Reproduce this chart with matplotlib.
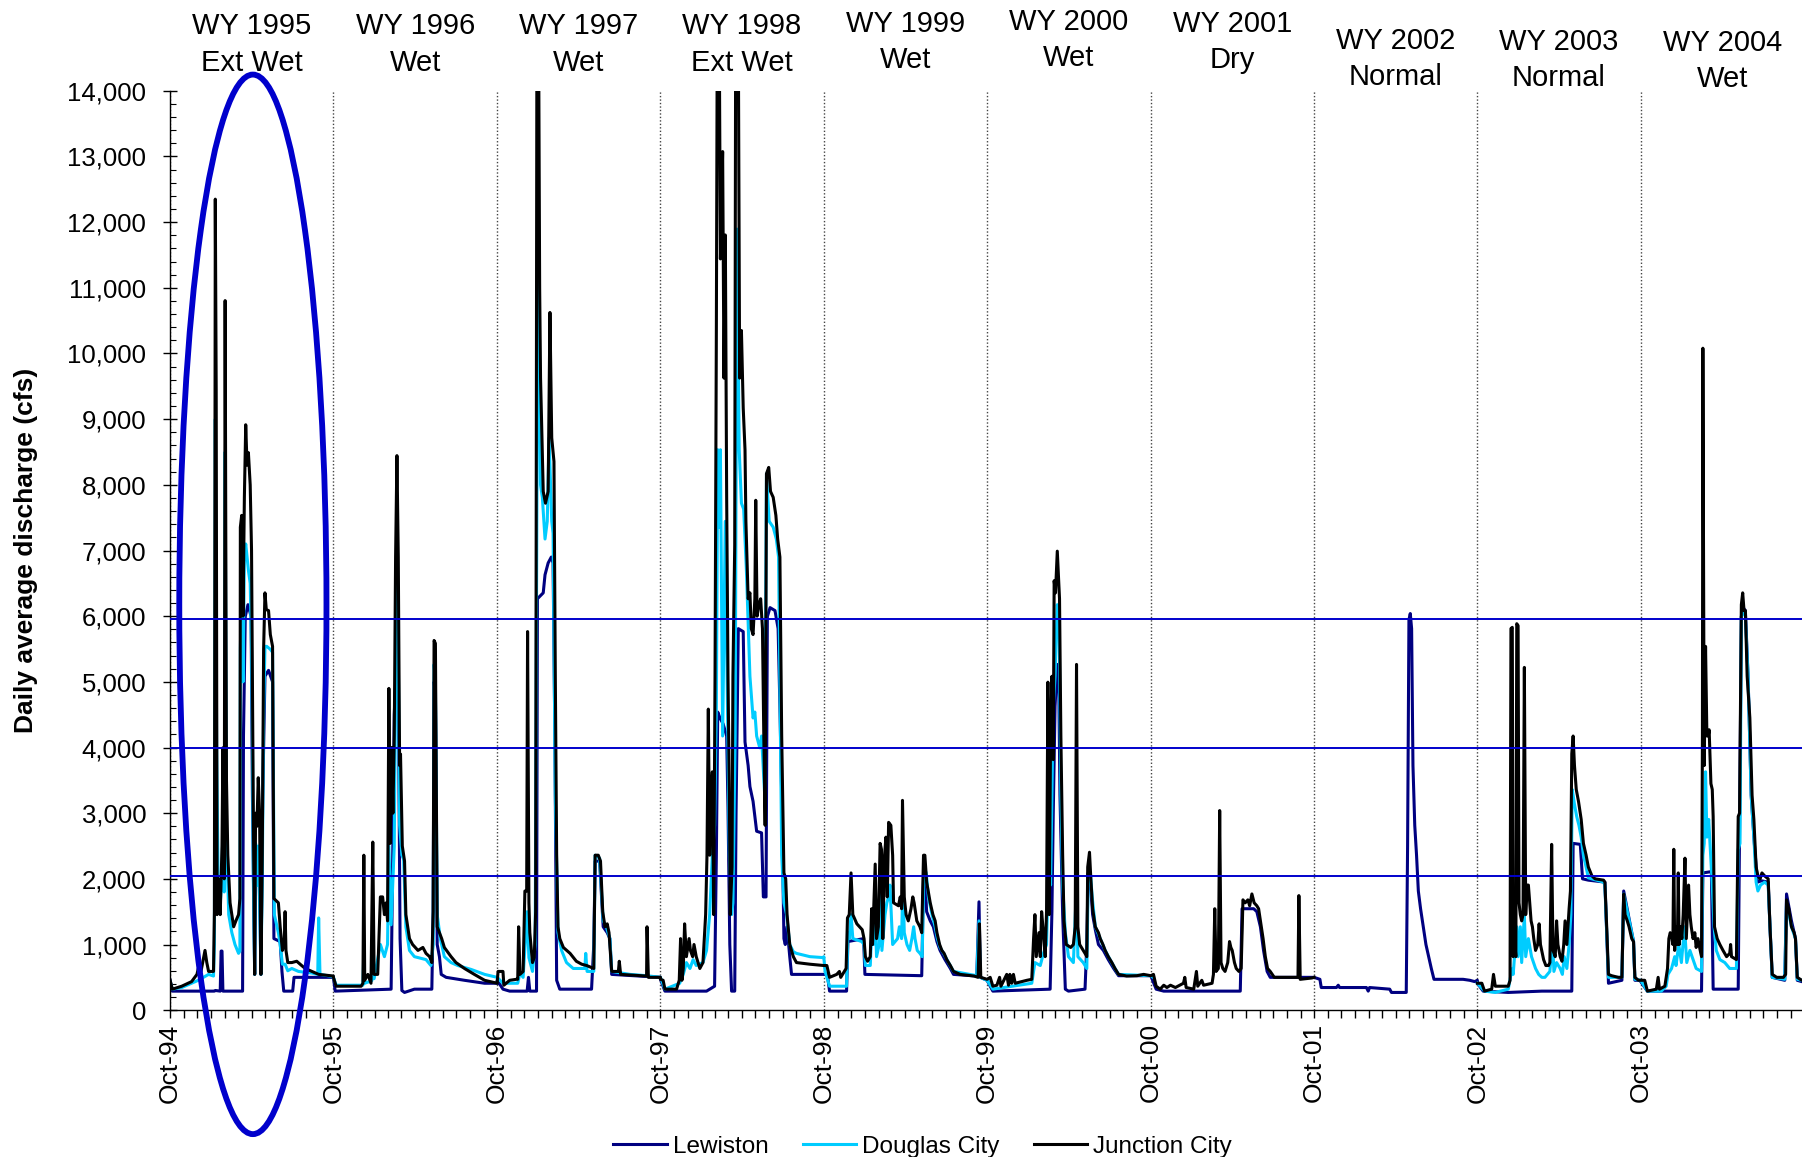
import numpy as np
import matplotlib
matplotlib.use("Agg")
import matplotlib.pyplot as plt
import matplotlib.dates as mdates
import matplotlib.transforms as mtransforms
from matplotlib.patches import Ellipse
from matplotlib.ticker import FuncFormatter, MultipleLocator

plt.rcParams['font.family'] = ['Liberation Sans', 'DejaVu Sans']

# water year labels
wy_years = [1995, 1996, 1997, 1998, 1999, 2000, 2001, 2002, 2003, 2004]
wy_types = ["Ext Wet", "Wet", "Wet", "Ext Wet", "Wet", "Wet", "Dry", "Normal", "Normal", "Wet"]

# horizontal reference lines (cfs)
ref_levels = [5950, 4000, 2040]

# daily discharge: {water year: [(day since Oct 1, cfs), ...]}
lewiston = {
    1995: [(0, 455), (5, 290), (99, 290), (101, 300), (112, 290), (114, 900), (116, 900), (118, 290),
           (162, 290), (164, 4175), (168, 5995), (174, 6175), (181, 5995), (184, 3270), (189, 545),
           (192, 2360), (199, 2360), (203, 545), (207, 3270), (212, 5085), (220, 5175), (229, 5000),
           (232, 1090), (246, 1045), (250, 590), (254, 290), (274, 290), (277, 500), (365, 500)],
    1996: [(0, 500), (4, 290), (129, 320), (132, 2000), (136, 4500), (142, 5500), (146, 4000),
           (149, 1090), (153, 300), (159, 270), (181, 320), (220, 320), (223, 1500), (225, 5000),
           (228, 4800), (232, 1000), (237, 815), (241, 545), (252, 500), (293, 455), (338, 410), (366, 410)],
    1997: [(0, 455), (13, 320), (28, 290), (67, 290), (70, 500), (73, 290), (88, 290), (90, 6265),
           (103, 6355), (107, 6630), (114, 6810), (121, 6900), (125, 6810), (129, 4175), (133, 455),
           (140, 320), (211, 320), (216, 1000), (219, 2270), (229, 2270), (237, 1270), (246, 1180),
           (252, 1090), (256, 545), (365, 500)],
    1998: [(0, 470), (10, 290), (103, 290), (121, 365), (125, 2360), (128, 4540), (133, 4450),
           (140, 4360), (148, 4175), (151, 3090), (155, 1000), (159, 290), (166, 290), (169, 3000),
           (174, 5810), (185, 5765), (189, 4085), (196, 3725), (200, 3405), (207, 3180), (215, 2725),
           (226, 2700), (230, 1725), (236, 1725), (239, 5995), (245, 6130), (256, 6085), (263, 5810),
           (267, 4630), (271, 3270), (276, 1090), (279, 1000), (283, 1270), (289, 815), (293, 545),
           (365, 545)],
    1999: [(0, 545), (8, 545), (13, 290), (51, 290), (54, 1045), (89, 1090), (92, 545), (219, 525),
           (223, 2000), (227, 1905), (230, 1500), (238, 1360), (245, 1270), (253, 1045), (260, 910),
           (271, 770), (283, 635), (290, 545), (342, 520), (347, 1650), (350, 500), (365, 455)],
    2000: [(0, 455), (13, 290), (141, 320), (145, 1500), (148, 3000), (152, 4630), (157, 5265),
           (160, 5175), (163, 3270), (169, 1455), (175, 320), (182, 290), (219, 320), (223, 1000),
           (226, 2090), (231, 1950), (236, 1455), (242, 1225), (249, 1000), (260, 910), (271, 770),
           (283, 635), (294, 525), (366, 525)],
    2001: [(0, 525), (12, 320), (29, 290), (200, 290), (204, 1545), (230, 1545), (237, 1500),
           (245, 1270), (252, 910), (260, 590), (267, 500), (365, 500)],
    2002: [(0, 500), (13, 470), (16, 345), (50, 345), (54, 380), (57, 345), (117, 345), (121, 290),
           (124, 345), (169, 320), (173, 270), (206, 270), (209, 2500), (212, 5945), (215, 6040),
           (218, 5810), (221, 3725), (225, 2815), (229, 2360), (233, 1815), (238, 1545), (244, 1270),
           (250, 1000), (256, 815), (262, 635), (268, 470), (303, 470), (333, 470), (348, 455),
           (359, 435), (365, 455)],
    2003: [(0, 410), (13, 290), (69, 270), (144, 290), (211, 290), (214, 2540), (230, 2525),
           (235, 2000), (248, 1980), (285, 1950), (293, 410), (323, 455), (327, 1815), (349, 1045),
           (352, 455), (365, 455)],
    2004: [(0, 435), (15, 290), (76, 290), (136, 290), (139, 2090), (158, 2110), (162, 320),
           (218, 320), (221, 2815), (225, 5995), (229, 6130), (234, 6085), (240, 5085), (247, 3270),
           (254, 2540), (261, 1950), (270, 1970), (285, 1950), (289, 1270), (294, 500), (322, 455),
           (326, 1770), (337, 1360), (346, 1090), (350, 455), (360, 435), (366, 435)],
}

douglas_city = {
    1995: [(0, 435), (5, 320), (26, 345), (63, 455), (86, 545), (97, 520), (99, 1000), (101, 9000),
           (104, 4000), (108, 1500), (112, 1635), (116, 2000), (118, 3000), (121, 1800), (123, 8500),
           (126, 2700), (131, 1455), (138, 1180), (145, 1000), (153, 865), (156, 900), (157, 5500),
           (160, 6500), (163, 5000), (166, 6900), (169, 7100), (172, 6900), (175, 6700), (179, 6500),
           (182, 5500), (184, 4175), (186, 2000), (189, 545), (191, 2540), (194, 1900), (197, 2500),
           (200, 1700), (203, 545), (206, 2000), (209, 4500), (212, 5540), (216, 5540), (224, 5495),
           (229, 5450), (233, 1455), (242, 1180), (246, 1000), (251, 700), (257, 700), (263, 600),
           (272, 635), (287, 590), (317, 565), (330, 545), (332, 1405), (335, 545), (365, 510)],
    1996: [(0, 500), (6, 380), (66, 380), (68, 900), (70, 410), (86, 450), (88, 1000), (91, 480),
           (105, 1000), (114, 815), (121, 1000), (124, 2500), (129, 1300), (136, 2500), (139, 5000),
           (142, 7200), (145, 5500), (148, 2815), (153, 2360), (157, 2300), (162, 1270), (170, 910),
           (181, 815), (196, 790), (207, 770), (218, 680), (223, 1000), (225, 5265), (228, 5000),
           (232, 1455), (239, 1090), (248, 815), (263, 725), (278, 680), (308, 620), (338, 545),
           (366, 500)],
    1997: [(0, 500), (13, 410), (46, 410), (51, 565), (58, 500), (62, 955), (67, 1500), (71, 800),
           (79, 590), (85, 1000), (89, 8000), (92, 12500), (97, 8000), (101, 7810), (107, 7175),
           (112, 7445), (116, 8715), (122, 7445), (125, 7260), (130, 3270), (136, 1180), (144, 910),
           (155, 725), (170, 635), (196, 635), (198, 865), (201, 590), (216, 590), (219, 2360),
           (229, 2315), (237, 1360), (244, 1270), (252, 1090), (256, 590), (297, 545), (334, 525),
           (365, 500)],
    1998: [(0, 500), (10, 320), (43, 410), (51, 545), (58, 725), (66, 635), (73, 770), (80, 680),
           (95, 725), (103, 910), (110, 1455), (116, 2360), (121, 2815), (125, 4630), (128, 8535),
           (131, 7355), (134, 8535), (139, 4175), (145, 7445), (149, 5085), (154, 2360), (159, 1455),
           (162, 1635), (167, 4175), (171, 11895), (176, 8535), (181, 7720), (186, 7630), (192, 6720),
           (200, 5085), (207, 4450), (211, 4540), (215, 4175), (222, 3995), (226, 4175), (233, 3270),
           (237, 8170), (243, 7445), (252, 7355), (259, 7175), (264, 6900), (271, 2360), (276, 1635),
           (282, 1455), (289, 1000), (297, 890), (304, 865), (334, 815), (365, 800)],
    1999: [(0, 815), (3, 590), (13, 365), (51, 365), (54, 1180), (57, 1090), (61, 1455), (65, 1090),
           (85, 1045), (90, 1000), (93, 680), (104, 680), (107, 1180), (111, 1000), (115, 1455),
           (118, 815), (124, 1000), (127, 2000), (130, 910), (137, 1455), (141, 1635), (145, 1725),
           (148, 1905), (151, 1455), (154, 1000), (165, 1090), (169, 1270), (174, 1090), (177, 2000),
           (180, 1180), (186, 1000), (192, 910), (197, 1090), (201, 1270), (204, 1090), (209, 910),
           (215, 865), (220, 815), (224, 2180), (229, 2090), (234, 1725), (242, 1455), (249, 1270),
           (254, 1090), (260, 955), (268, 865), (279, 725), (290, 590), (342, 525), (347, 1360),
           (350, 500), (365, 455)],
    2000: [(0, 455), (13, 320), (100, 410), (107, 725), (119, 680), (126, 865), (133, 1000),
           (138, 2360), (142, 1905), (148, 4630), (152, 5085), (157, 6175), (161, 5995), (165, 3270),
           (169, 1905), (175, 1180), (182, 815), (193, 725), (200, 1905), (203, 815), (215, 725),
           (223, 635), (226, 1950), (231, 2090), (235, 1725), (242, 1270), (253, 1090), (264, 910),
           (275, 770), (286, 635), (294, 545), (366, 525)],
    2001: [(0, 525), (5, 500)],
    2003: [(0, 410), (16, 290), (40, 270), (69, 320), (75, 545), (78, 635), (80, 545), (88, 1270),
           (91, 815), (96, 1270), (99, 725), (105, 1455), (108, 815), (114, 1090), (121, 815),
           (130, 635), (137, 545), (144, 500), (151, 500), (162, 590), (168, 1090), (171, 590),
           (177, 725), (185, 635), (190, 545), (194, 815), (200, 635), (205, 1000), (209, 1455),
           (212, 3360), (217, 3135), (222, 2950), (227, 2815), (232, 2635), (237, 2360), (243, 2180),
           (248, 2015), (256, 2000), (282, 1950), (285, 1905), (289, 1180), (293, 500), (323, 500),
           (327, 1770), (349, 1045), (352, 470), (365, 455)],
    2004: [(0, 455), (15, 290), (46, 290), (57, 365), (61, 545), (69, 635), (76, 815), (79, 680),
           (85, 1000), (91, 725), (98, 1270), (103, 725), (110, 910), (117, 770), (124, 635),
           (136, 590), (139, 2360), (142, 2540), (145, 3630), (148, 2635), (152, 2905), (155, 2540),
           (160, 1905), (164, 1270), (169, 910), (177, 770), (188, 725), (199, 635), (214, 635),
           (218, 2450), (222, 2540), (225, 5995), (229, 6085), (234, 5995), (240, 5085), (247, 3270),
           (253, 2635), (258, 1950), (262, 1815), (268, 1905), (277, 1950), (285, 1905), (289, 1270),
           (294, 500), (322, 470), (326, 1650), (337, 1270), (346, 1090), (350, 470), (360, 455),
           (366, 455)],
}

junction_city = {
    1995: [(0, 455), (5, 320), (26, 365), (48, 435), (60, 545), (63, 635), (69, 590), (78, 910),
           (82, 725), (86, 590), (97, 590), (99, 1500), (101, 12350), (103, 9445), (105, 1455),
           (108, 2000), (112, 1455), (116, 2500), (118, 3995), (121, 2000), (123, 10805), (126, 3500),
           (129, 2360), (134, 1635), (138, 1455), (142, 1270), (147, 1360), (153, 1455), (156, 1700),
           (157, 7355), (160, 7535), (163, 6000), (166, 7810), (169, 8915), (172, 8300), (175, 8490),
           (179, 8000), (182, 7000), (184, 5085), (186, 3000), (189, 545), (191, 3000), (194, 2800),
           (197, 3540), (200, 3000), (203, 545), (206, 2360), (209, 5500), (212, 6355), (215, 6100),
           (220, 6085), (224, 5720), (229, 5540), (232, 1700), (242, 1635), (246, 1270), (251, 910),
           (255, 1000), (257, 1500), (259, 910), (263, 725), (272, 725), (283, 745), (294, 680),
           (302, 635), (317, 590), (332, 545), (365, 520)],
    1996: [(0, 500), (6, 365), (62, 365), (66, 410), (68, 2360), (70, 455), (77, 545), (84, 410),
           (88, 2560), (91, 545), (99, 545), (105, 1725), (110, 1725), (114, 1455), (118, 1635),
           (121, 1360), (124, 4900), (127, 2540), (130, 4000), (133, 3000), (136, 4175), (139, 6900),
           (142, 8445), (145, 6900), (148, 3725), (150, 3900), (154, 2500), (159, 2270), (162, 1455),
           (170, 1090), (177, 1000), (189, 910), (200, 955), (207, 865), (215, 815), (220, 725),
           (223, 1500), (225, 5630), (228, 5585), (232, 1270), (237, 1180), (242, 1090), (248, 955),
           (263, 815), (274, 725), (293, 635), (315, 545), (338, 455), (366, 410)],
    1997: [(0, 410), (2, 590), (13, 590), (15, 380), (28, 455), (43, 470), (46, 470), (48, 1270),
           (51, 545), (58, 590), (62, 1815), (66, 1815), (68, 5765), (71, 1635), (73, 1180), (79, 725),
           (83, 800), (86, 1500), (89, 15500), (92, 16000), (95, 11000), (97, 9625), (103, 7900),
           (108, 7720), (114, 7900), (118, 10625), (122, 8715), (127, 8355), (130, 5085), (133, 2360),
           (136, 1270), (140, 1090), (148, 955), (163, 865), (177, 745), (189, 700), (200, 680),
           (216, 635), (219, 2360), (226, 2360), (231, 2270), (236, 1500), (241, 1270), (246, 1315),
           (250, 1180), (256, 590), (271, 590), (273, 745), (276, 545), (334, 520), (335, 1270),
           (338, 500), (365, 500)],
    1998: [(0, 470), (6, 455), (10, 320), (36, 320), (42, 455), (45, 1090), (48, 455), (51, 635),
           (54, 1315), (58, 815), (64, 1090), (67, 910), (72, 815), (75, 1000), (80, 815), (88, 635),
           (95, 725), (101, 1455), (104, 2360), (107, 4585), (110, 2360), (113, 3270), (116, 3630),
           (119, 1455), (122, 5085), (125, 10440), (127, 15000), (131, 15500), (134, 11440),
           (139, 13075), (142, 9625), (145, 11805), (148, 7810), (151, 5085), (154, 3270), (156, 1455),
           (160, 2180), (162, 5085), (166, 7080), (168, 14500), (171, 16000), (174, 15000), (177, 9625),
           (181, 10350), (185, 9170), (189, 8535), (191, 7445), (196, 6265), (200, 6355), (203, 5810),
           (207, 5720), (211, 6265), (213, 7765), (216, 6000), (220, 6175), (224, 6265), (228, 5810),
           (231, 4175), (234, 2815), (237, 8170), (242, 8265), (246, 7900), (252, 7810), (258, 7535),
           (262, 7175), (267, 6900), (271, 4175), (276, 2090), (280, 2000), (283, 1455), (289, 1000),
           (297, 815), (304, 725), (334, 700), (365, 680)],
    1999: [(0, 680), (7, 680), (13, 500), (29, 545), (35, 590), (38, 500), (50, 635), (53, 1405),
           (57, 1455), (61, 2090), (65, 1455), (74, 1315), (86, 1225), (90, 1090), (93, 815), (98, 745),
           (104, 815), (107, 1545), (109, 1000), (113, 1815), (115, 2225), (118, 1090), (122, 1270),
           (126, 2540), (129, 2450), (132, 1090), (136, 2360), (139, 2635), (142, 1725), (145, 2860),
           (150, 2815), (154, 2360), (156, 1635), (167, 1590), (171, 1725), (174, 1545), (176, 3195),
           (180, 1725), (184, 1455), (189, 1360), (195, 1545), (199, 1725), (202, 1635), (208, 1360),
           (215, 1270), (219, 1180), (223, 2360), (226, 2360), (230, 1950), (238, 1635), (244, 1455),
           (249, 1360), (253, 1180), (259, 1000), (264, 910), (269, 865), (275, 770), (283, 680),
           (290, 590), (305, 545), (336, 520), (345, 500), (348, 1315), (351, 500), (365, 470)],
    2000: [(0, 470), (7, 500), (13, 365), (22, 380), (28, 500), (31, 365), (44, 545), (48, 380),
           (51, 545), (55, 410), (59, 545), (63, 410), (89, 455), (100, 470), (104, 1090), (107, 1455),
           (110, 815), (116, 1180), (119, 815), (122, 1500), (126, 1180), (130, 815), (133, 1500),
           (136, 4995), (139, 1455), (142, 4175), (145, 5085), (148, 3815), (150, 6540), (153, 6355),
           (157, 6990), (160, 6540), (162, 6265), (165, 4175), (169, 2360), (172, 1360), (177, 1000),
           (187, 955), (193, 1000), (197, 1270), (200, 5265), (203, 1270), (207, 1000), (219, 865),
           (223, 815), (225, 2180), (229, 2405), (232, 2000), (236, 1545), (242, 1270), (249, 1180),
           (253, 1090), (259, 1000), (264, 910), (271, 815), (279, 725), (286, 635), (294, 545),
           (312, 520), (335, 525), (350, 545), (366, 525)],
    2001: [(0, 525), (6, 545), (12, 365), (21, 320), (29, 380), (36, 345), (44, 380), (55, 345),
           (73, 410), (76, 500), (79, 345), (96, 320), (102, 590), (105, 365), (114, 455), (118, 380),
           (137, 410), (140, 545), (143, 1545), (146, 590), (151, 635), (154, 3040), (157, 725),
           (161, 635), (166, 590), (172, 725), (176, 1045), (179, 955), (182, 910), (187, 725),
           (191, 635), (197, 590), (202, 635), (206, 1680), (211, 1635), (217, 1680), (221, 1590),
           (226, 1770), (231, 1635), (237, 1590), (241, 1545), (245, 1360), (251, 1090), (256, 815),
           (261, 635), (267, 590), (276, 500), (329, 500), (331, 1745), (334, 470), (360, 490),
           (365, 500)],
    2003: [(0, 410), (10, 410), (16, 290), (32, 320), (36, 545), (40, 365), (69, 365), (73, 455),
           (75, 5810), (78, 5830), (80, 815), (83, 1090), (86, 815), (88, 5885), (91, 5855), (93, 1635),
           (96, 1455), (99, 1360), (102, 1455), (105, 5220), (108, 1455), (111, 1905), (114, 1905),
           (117, 1635), (120, 1360), (123, 1270), (126, 1090), (130, 910), (135, 1000), (138, 1315),
           (141, 1000), (148, 770), (153, 680), (159, 680), (162, 725), (166, 2525), (169, 910),
           (174, 815), (177, 1360), (180, 1000), (185, 815), (189, 745), (193, 1000), (196, 1360),
           (200, 1000), (205, 1545), (208, 1815), (211, 3905), (214, 4175), (217, 3725), (221, 3360),
           (226, 3180), (232, 2905), (237, 2540), (243, 2360), (248, 2180), (256, 2045), (263, 2000),
           (282, 1980), (285, 1950), (289, 1270), (293, 545), (300, 525), (315, 500), (323, 500),
           (327, 1770), (330, 1455), (335, 1360), (339, 1270), (345, 1090), (349, 1045), (352, 500),
           (360, 455), (365, 455)],
    2004: [(0, 455), (9, 455), (15, 290), (35, 320), (39, 500), (42, 320), (54, 365), (60, 635),
           (63, 1090), (66, 1180), (69, 1135), (72, 1000), (74, 2450), (76, 910), (79, 1270), (82, 1000),
           (84, 2090), (86, 1000), (89, 1270), (92, 1090), (95, 1455), (99, 2315), (102, 1090),
           (107, 1905), (110, 1455), (113, 1270), (117, 1090), (121, 1180), (124, 955), (128, 1090),
           (133, 910), (136, 815), (138, 4175), (139, 10080), (142, 3725), (145, 5540), (148, 4175),
           (151, 4175), (153, 4270), (157, 3450), (160, 3360), (162, 2950), (165, 1270), (171, 1090),
           (177, 1000), (184, 910), (192, 815), (199, 865), (201, 1000), (203, 815), (214, 770),
           (218, 2950), (221, 3000), (225, 6175), (228, 6355), (231, 6085), (234, 6085), (238, 5085),
           (244, 4450), (249, 3270), (253, 2905), (258, 2180), (262, 2045), (267, 2000), (271, 2090),
           (277, 2045), (285, 2000), (289, 1270), (294, 545), (304, 500), (319, 500), (324, 545),
           (326, 1680), (331, 1545), (337, 1270), (343, 1180), (346, 1090), (350, 500), (360, 455),
           (366, 455)],
}


def to_series(by_year):
    # join the water years into one date axis, break the line where a year is missing
    xs, ys = [], []
    prev = None
    for wy in sorted(by_year):
        if prev is not None and wy != prev + 1:
            xs.append(np.datetime64(f"{wy - 1}-09-30"))
            ys.append(np.nan)
        start = np.datetime64(f"{wy - 1}-10-01")
        for d, q in by_year[wy]:
            xs.append(start + np.timedelta64(d, 'D'))
            ys.append(q)
        prev = wy
    return np.array(xs), np.array(ys, dtype=float)


fig = plt.figure(figsize=(18.02, 11.57), dpi=100)
ax = fig.add_axes([0.0944, 0.1269, 0.9067, 0.7946])

series = [("Lewiston", lewiston, "#000080"),
          ("Douglas City", douglas_city, "#00CCFF"),
          ("Junction City", junction_city, "#000000")]
handles = []
for name, data, col in series:
    x, y = to_series(data)
    ln, = ax.plot(x, y, color=col, lw=2.2, label=name, zorder=2)
    handles.append(ln)

for lvl in ref_levels:
    ax.axhline(lvl, color="#0000CC", lw=1.4, zorder=4)

ax.set_xlim(np.datetime64("1994-10-01"), np.datetime64("2004-09-30"))
ax.set_ylim(0, 14000)

ax.xaxis.set_major_locator(mdates.MonthLocator(bymonth=10))
ax.xaxis.set_minor_locator(mdates.MonthLocator())
ax.xaxis.set_major_formatter(mdates.DateFormatter("%b-%y"))
ax.yaxis.set_major_locator(MultipleLocator(1000))
ax.yaxis.set_minor_locator(MultipleLocator(200))
ax.yaxis.set_major_formatter(FuncFormatter(lambda v, p: f"{v:,.0f}"))

ax.tick_params(axis="y", which="major", direction="inout", length=10.5, width=1,
               labelsize=18.5, pad=12)
ax.tick_params(axis="y", which="minor", direction="in", length=4.5, width=0.8)
ax.tick_params(axis="x", which="both", direction="out", length=5.5, width=1,
               labelsize=19, pad=4)
for lab in ax.get_xticklabels():
    lab.set_rotation(90)

ax.grid(axis="x", which="major", linestyle=(0, (1, 1.5)), color="#444444", lw=1.0)
for s in ["top", "right"]:
    ax.spines[s].set_visible(False)
for s in ["left", "bottom"]:
    ax.spines[s].set_linewidth(1.0)

ax.set_ylabel("Daily average discharge (cfs)", fontsize=19, fontweight="bold")
ax.yaxis.set_label_coords(-0.081, 0.5)

# water year headers above the plot
label_y = [1.0505, 1.0505, 1.0505, 1.0505, 1.053, 1.055, 1.053, 1.0345, 1.0335, 1.0325]
trans = mtransforms.blended_transform_factory(ax.transData, ax.transAxes)
for wy, kind, yy in zip(wy_years, wy_types, label_y):
    xm = mdates.date2num(np.datetime64(f"{wy}-04-01"))
    ax.text(xm, yy, f"WY {wy}\n{kind}", transform=trans, ha="center", va="center",
            fontsize=21, linespacing=1.38)

# highlight ellipse around WY 1995
ell = Ellipse((mdates.date2num(np.datetime64("1995-04-04")), 6180), width=329, height=16135,
              fill=False, ec="#0000CC", lw=4.2, clip_on=False, zorder=6)
ax.add_patch(ell)

fig.legend(handles=handles, loc="center", bbox_to_anchor=(0.512, 0.009), ncol=3,
           frameon=False, fontsize=17.5, handlelength=2.2, handletextpad=0.25,
           columnspacing=1.4)

fig.savefig("out.png", dpi=100)
